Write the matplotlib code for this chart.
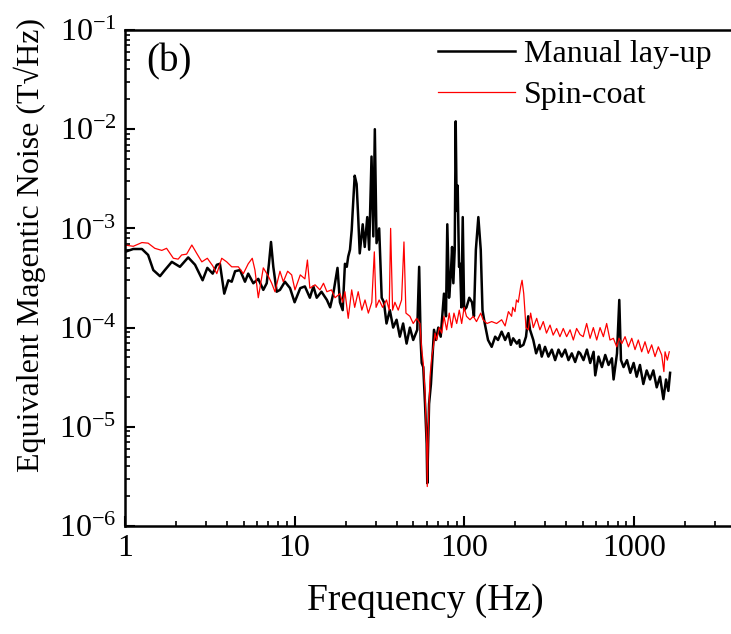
import matplotlib
matplotlib.use('Agg')
import matplotlib.pyplot as plt
from matplotlib.ticker import LogLocator, FuncFormatter, NullFormatter

# Manual lay-up (black)
freq_manual = [1.0, 1.12, 1.26, 1.37, 1.47, 1.61, 1.72, 1.89, 2.11, 2.36, 2.59, 2.87, 3.06, 3.29,
               3.48, 3.63, 3.85, 4.07, 4.26, 4.46, 4.77, 5.10, 5.33, 5.71, 6.11, 6.54, 6.85, 7.06,
               7.26, 7.49, 7.84, 8.20, 8.77, 9.40, 10.0, 10.8, 11.5, 12.3, 12.9, 13.5, 14.4, 15.5,
               16.2, 16.9, 17.9, 18.5, 19.2, 19.8, 20.3, 20.7, 21.2, 21.7, 22.0, 22.6, 23.2, 23.7,
               24.2, 25.2, 25.9, 26.8, 27.5, 28.4, 29.1, 29.7, 30.4, 31.5, 32.6, 33.6, 34.8, 36.4,
               38.1, 39.9, 41.7, 43.6, 45.7, 47.8, 50.0, 52.8, 54.2, 55.3, 56.1, 57.3, 58.7, 60.0,
               60.5, 62.0, 63.6, 65.1, 66.3, 68.1, 70.3, 72.6, 74.6, 75.9, 78.0, 79.4, 81.3, 83.2,
               84.7, 86.2, 87.8, 89.0, 90.2, 91.4, 93.1, 94.4, 96.1, 97.9, 99.8, 103, 107, 111,
               114, 117, 121, 125, 128, 132, 138, 145, 152, 158, 166, 174, 182, 188, 194, 204, 211,
               213, 223, 231, 238, 244, 255, 265, 277, 286, 299, 313, 328, 343, 359, 375, 393, 411,
               430, 450, 471, 482, 504, 528, 552, 578, 591, 618, 647, 677, 708, 741, 758, 794, 819,
               838, 868, 909, 951, 995, 1037, 1084, 1135, 1188, 1243, 1300, 1361, 1423, 1490, 1545,
               1594, 1632]
noise_manual = [5.8e-4, 6.2e-4, 6.2e-4, 5.4e-4, 3.8e-4, 3.3e-4, 3.8e-4, 4.6e-4, 4.1e-4, 5.1e-4,
                4.3e-4, 3.0e-4, 4.0e-4, 3.5e-4, 4.3e-4, 4.4e-4, 2.2e-4, 3.0e-4, 2.9e-4, 3.7e-4,
                3.8e-4, 2.9e-4, 3.5e-4, 2.8e-4, 3.1e-4, 2.4e-4, 2.8e-4, 4.4e-4, 7.3e-4, 4.1e-4,
                2.3e-4, 2.4e-4, 2.9e-4, 2.5e-4, 1.8e-4, 2.5e-4, 2.6e-4, 2.0e-4, 2.6e-4, 2.0e-4,
                2.3e-4, 1.9e-4, 1.6e-4, 2.2e-4, 4.0e-4, 1.8e-4, 1.5e-4, 4.4e-4, 4.1e-4, 5.2e-4,
                6.1e-4, 9.6e-4, 1.5e-3, 3.4e-3, 2.8e-3, 1.3e-3, 5.6e-4, 1.1e-3, 6.5e-4, 1.3e-3,
                6.1e-4, 5.3e-3, 8.3e-4, 1.0e-2, 7.1e-4, 1.0e-3, 2.0e-4, 1.8e-4, 1.1e-4, 1.5e-4,
                1.0e-4, 1.2e-4, 8.1e-5, 1.1e-4, 6.9e-5, 1.0e-4, 7.5e-5, 9.5e-5, 4.1e-4, 7.5e-5,
                4.4e-5, 4.0e-5, 1.7e-5, 6.8e-6, 2.7e-6, 1.7e-5, 2.7e-5, 5.5e-5, 9.5e-5, 7.5e-5,
                1.0e-4, 8.1e-5, 1.5e-4, 2.2e-4, 1.3e-4, 1.1e-3, 2.0e-4, 3.3e-4, 6.5e-4, 2.8e-4,
                6.1e-4, 1.2e-2, 1.5e-3, 2.7e-3, 4.1e-4, 4.4e-4, 1.6e-4, 1.3e-3, 1.5e-4, 1.6e-4,
                2.0e-4, 1.8e-4, 1.3e-4, 6.1e-4, 1.3e-3, 6.1e-4, 1.5e-4, 1.1e-4, 7.5e-5, 6.4e-5,
                8.1e-5, 7.5e-5, 9.1e-5, 7.5e-5, 8.8e-5, 6.7e-5, 7.8e-5, 6.9e-5, 7.5e-5, 6.4e-5,
                6.7e-5, 8.1e-5, 1.3e-4, 9.5e-5, 7.5e-5, 5.5e-5, 6.7e-5, 5.1e-5, 6.4e-5, 5.1e-5,
                6.0e-5, 4.7e-5, 6.0e-5, 5.1e-5, 6.0e-5, 4.7e-5, 5.5e-5, 4.5e-5, 5.7e-5, 5.5e-5,
                4.7e-5, 6.0e-5, 4.4e-5, 5.7e-5, 3.3e-5, 5.1e-5, 4.0e-5, 5.3e-5, 4.2e-5, 4.9e-5,
                3.0e-5, 5.5e-5, 1.9e-4, 4.7e-5, 4.0e-5, 4.7e-5, 3.5e-5, 4.4e-5, 3.2e-5, 4.2e-5,
                2.7e-5, 3.7e-5, 3.0e-5, 3.7e-5, 2.5e-5, 3.2e-5, 1.9e-5, 3.0e-5, 2.3e-5, 3.5e-5]

# Spin-coat (red)
freq_spin = [1.0, 1.12, 1.26, 1.37, 1.50, 1.65, 1.76, 1.93, 2.06, 2.16, 2.31, 2.48, 2.65, 2.84,
             3.06, 3.29, 3.48, 3.72, 3.98, 4.26, 4.66, 4.99, 5.33, 5.63, 5.84, 6.11, 6.54, 7.00,
             7.33, 7.66, 8.20, 8.58, 9.10, 9.61, 10.05, 10.8, 11.5, 11.9, 12.3, 13.2, 14.1, 14.8,
             15.5, 16.5, 17.3, 18.5, 19.2, 19.8, 20.7, 21.7, 22.6, 23.7, 24.9, 26.0, 27.2, 28.5,
             29.5, 30.2, 31.5, 33.0, 34.8, 36.1, 36.8, 37.8, 39.0, 40.8, 42.7, 44.1, 45.3, 47.8,
             50.0, 52.4, 54.8, 56.1, 57.3, 58.7, 60.0, 60.5, 61.4, 62.8, 64.3, 65.7, 67.2, 68.7,
             71.2, 73.6, 75.9, 78.7, 81.5, 84.2, 86.9, 90.2, 93.4, 96.5, 99.8, 103, 108, 113, 118,
             125, 129, 136, 145, 155, 166, 174, 182, 190, 193, 199, 203, 208, 215, 219, 224, 231,
             238, 246, 255, 267, 279, 292, 305, 320, 334, 350, 366, 383, 401, 420, 439, 459, 481,
             502, 526, 551, 576, 603, 631, 660, 690, 722, 756, 791, 816, 847, 886, 927, 970, 1014,
             1060, 1110, 1161, 1214, 1271, 1330, 1391, 1456, 1500, 1524, 1572, 1614]
noise_spin = [6.8e-4, 6.6e-4, 7.2e-4, 7.1e-4, 6.3e-4, 6.0e-4, 6.3e-4, 5.0e-4, 4.9e-4, 5.4e-4,
              5.5e-4, 6.8e-4, 5.6e-4, 4.6e-4, 5.0e-4, 4.2e-4, 3.5e-4, 5.0e-4, 4.6e-4, 4.1e-4,
              4.1e-4, 3.5e-4, 4.4e-4, 5.0e-4, 3.8e-4, 2.0e-4, 4.0e-4, 3.3e-4, 2.8e-4, 2.3e-4,
              3.7e-4, 2.9e-4, 3.7e-4, 3.4e-4, 2.4e-4, 3.4e-4, 3.1e-4, 4.8e-4, 2.5e-4, 2.7e-4,
              2.4e-4, 2.8e-4, 2.3e-4, 2.4e-4, 2.0e-4, 2.2e-4, 1.8e-4, 2.3e-4, 1.24e-4, 2.4e-4,
              1.6e-4, 2.3e-4, 1.5e-4, 1.9e-4, 1.4e-4, 1.8e-4, 5.8e-4, 1.6e-4, 1.9e-4, 1.6e-4,
              1.9e-4, 1.5e-4, 1.0e-3, 1.5e-4, 1.8e-4, 1.5e-4, 1.9e-4, 7.3e-4, 1.4e-4, 1.3e-4,
              1.1e-4, 1.24e-4, 1.1e-4, 6.0e-5, 4.4e-5, 2.2e-5, 6.8e-6, 2.5e-6, 1.0e-5, 3.2e-5,
              5.1e-5, 6.4e-5, 8.8e-5, 7.5e-5, 1.0e-4, 8.8e-5, 1.3e-4, 9.5e-5, 1.4e-4, 1.0e-4,
              1.4e-4, 1.1e-4, 1.5e-4, 1.1e-4, 1.6e-4, 1.3e-4, 1.2e-4, 1.3e-4, 1.15e-4, 1.4e-4,
              1.2e-4, 1.1e-4, 1.15e-4, 1.1e-4, 1.2e-4, 1.04e-4, 1.45e-4, 1.3e-4, 1.6e-4, 1.45e-4,
              1.9e-4, 1.8e-4, 2.6e-4, 3.0e-4, 2.2e-4, 1.0e-4, 9.5e-5, 1.4e-4, 1.0e-4, 1.24e-4,
              9.5e-5, 1.15e-4, 8.8e-5, 1.06e-4, 8.4e-5, 9.8e-5, 8.1e-5, 9.8e-5, 8.1e-5, 9.5e-5,
              7.5e-5, 9.8e-5, 8.5e-5, 8.1e-5, 1.1e-4, 7.8e-5, 1.0e-4, 7.5e-5, 1.0e-4, 8.1e-5,
              1.1e-4, 7.5e-5, 7.8e-5, 6.4e-5, 7.8e-5, 6.9e-5, 8.1e-5, 6.4e-5, 7.8e-5, 6.0e-5,
              7.5e-5, 5.7e-5, 7.2e-5, 5.5e-5, 6.7e-5, 5.1e-5, 6.4e-5, 5.3e-5, 3.6e-5, 5.7e-5,
              4.7e-5, 5.7e-5]

plt.rcParams['font.family'] = ['Liberation Serif', 'DejaVu Serif']
plt.rcParams['mathtext.fontset'] = 'custom'
plt.rcParams['mathtext.rm'] = 'Liberation Serif'
plt.rcParams['mathtext.it'] = 'Liberation Serif:italic'
plt.rcParams['mathtext.bf'] = 'Liberation Serif:bold'

W, H = 731, 634
fig = plt.figure(figsize=(W / 100, H / 100), dpi=100)
# axes runs past the right edge of the picture, as in the original crop
ax = fig.add_axes([124.9 / W, 1 - 526 / H, 678.8 / W, 496 / H])

ax.plot(freq_manual, noise_manual, color='black', lw=1.8, label='Manual lay-up')
ax.plot(freq_spin, noise_spin, color='red', lw=0.9, label='Spin-coat')

ax.set_xscale('log')
ax.set_yscale('log')
ax.set_xlim(1, 10000)
ax.set_ylim(1e-6, 1e-1)

ax.xaxis.set_major_formatter(FuncFormatter(lambda v, p: f'{v:g}' if v < 5000 else ''))
ax.xaxis.set_minor_locator(LogLocator(base=10, subs=range(2, 10), numticks=20))
ax.xaxis.set_minor_formatter(NullFormatter())
ax.yaxis.set_minor_locator(LogLocator(base=10, subs=range(2, 10), numticks=20))
ax.yaxis.set_minor_formatter(NullFormatter())

ax.tick_params(which='both', direction='in', top=False, right=False, labelsize=23)
ax.tick_params(which='major', length=7, width=1.5, pad=6)
ax.tick_params(which='minor', length=3.5, width=1.2)
for s in ax.spines.values():
    s.set_linewidth(1.8)

ax.set_xlabel('Frequency (Hz)', fontsize=27)
ax.xaxis.set_label_coords((425 - 124.9) / 678.8, -0.115)
ax.set_ylabel('Equivalent Magentic Noise (T\u221aHz)', fontsize=23)
ax.yaxis.set_label_coords((46 - 124.9) / 678.8, 0.567)

fig.text(146 / W, 1 - 62 / H, '(b)', fontsize=28, va='center')

ax.legend(loc='upper left', bbox_to_anchor=(438 / W, 1 - 40 / H), bbox_transform=fig.transFigure,
          frameon=False, fontsize=23, handlelength=2.4, handletextpad=0.3, labelspacing=0.35,
          borderpad=0, borderaxespad=0)

fig.savefig('out.png', dpi=100)
